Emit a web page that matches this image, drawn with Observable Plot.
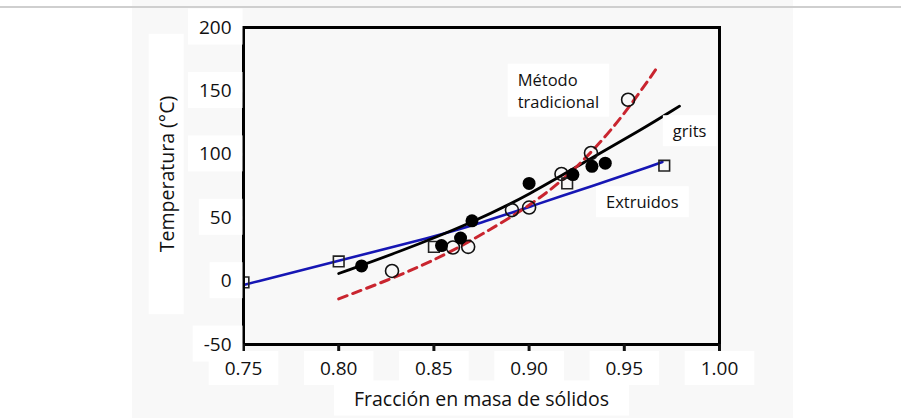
<!DOCTYPE html>
<html><head><meta charset="utf-8">
<script src="https://cdn.jsdelivr.net/npm/d3@7"></script>
<script src="https://cdn.jsdelivr.net/npm/@observablehq/plot@0.6"></script>
<style>
html,body{margin:0;padding:0;background:#fff;}
#wrap{position:relative;width:901px;height:418px;overflow:hidden;}
#panel{position:absolute;left:132px;top:0;width:661px;height:418px;background:#f8f8f8;}
#rule{position:absolute;left:0;top:6px;width:901px;height:2px;background:#cfcfcf;}
#chart{position:absolute;left:0;top:0;}
</style></head><body>
<div id="wrap"><div id="panel"></div><div id="rule"></div><div id="chart"></div></div>
<script>
// Axis ticks
const xTicks = [0.75, 0.80, 0.85, 0.90, 0.95, 1.00];
const yTicks = [-50, 0, 50, 100, 150, 200];

// Measured points: grits (filled circles)
const gritsX = [0.812, 0.854, 0.864, 0.870, 0.900, 0.923, 0.933, 0.940];
const gritsY = [12, 28, 34, 47.5, 77, 84, 90.5, 93];
// Método tradicional (open circles)
const tradX = [0.828, 0.860, 0.868, 0.891, 0.900, 0.917, 0.9325, 0.952];
const tradY = [8, 26.5, 27, 56, 58, 84.5, 101, 143];
// Extruidos (open squares)
const extrX = [0.750, 0.800, 0.850, 0.920, 0.971];
const extrY = [-1, 15.5, 27, 77, 91];

// Fitted curves
const blueCurveX = [0.75, 0.80, 0.85, 0.875, 0.90, 0.935, 0.959, 0.97];
const blueCurveY = [-3, 16, 35, 46, 58.5, 76, 88, 94];
const blackCurveX = [0.80, 0.83, 0.87, 0.90, 0.9325, 0.958, 0.979];
const blackCurveY = [6, 22, 46, 68, 97, 118.5, 138];
const redCurveX = [0.80, 0.83, 0.855, 0.875, 0.90, 0.92, 0.94, 0.955, 0.968];
const redCurveY = [-14, 3, 20, 36.5, 59, 82, 113, 142, 170];

// Annotations
const labelText = ["Método\ntradicional", "grits", "Extruidos"];
const labelX = [0.894, 0.9755, 0.9404];
const labelY = [151, 119, 63];

const zip = (xs, ys) => xs.map((x, i) => ({x, y: ys[i]}));
const grits = zip(gritsX, gritsY);
const trad = zip(tradX, tradY);
const extr = zip(extrX, extrY);
const blue = zip(blueCurveX, blueCurveY);
const black = zip(blackCurveX, blackCurveY);
const red = zip(redCurveX, redCurveY);
const labels = labelText.map((t, i) => ({t, x: labelX[i], y: labelY[i]}));

const chart = Plot.plot({
  width: 901, height: 418,
  marginLeft: 243, marginRight: 182, marginTop: 27, marginBottom: 74,
  style: {background: "transparent", fontFamily: "'Open Sans', 'Noto Sans', sans-serif", fontSize: "19px", color: "#111"},
  x: {domain: [0.75, 1.0]},
  y: {domain: [-50, 200]},
  marks: [
    Plot.line(blue, {x: "x", y: "y", stroke: "#1616b4", strokeWidth: 2.6, curve: "basis"}),
    Plot.line(black, {x: "x", y: "y", stroke: "#000", strokeWidth: 2.8, curve: "basis"}),
    Plot.line(red, {x: "x", y: "y", stroke: "#c9252f", strokeWidth: 3, strokeDasharray: "9,6", curve: "basis"}),
    Plot.dot(trad, {x: "x", y: "y", r: 6.5, stroke: "#111", strokeWidth: 1.6, fill: "none"}),
    Plot.dot(extr, {x: "x", y: "y", symbol: "square", r: 6, stroke: "#222", strokeWidth: 1.6, fill: "none"}),
    Plot.dot(grits, {x: "x", y: "y", r: 6.5, fill: "#000", stroke: "none"}),
    Plot.frame({stroke: "#000", strokeWidth: 3}),
    Plot.axisX({ticks: xTicks, tickFormat: d => d.toFixed(2), tickSize: 9, tickPadding: 8, strokeWidth: 3, label: null, fontSize: 19}),
    Plot.axisY({ticks: yTicks, tickFormat: d => String(d), tickSize: 9, tickPadding: 3, strokeWidth: 3, label: null, fontSize: 19}),
    Plot.text(labels, {x: "x", y: "y", text: "t", textAnchor: "start", fontSize: 16.5, lineHeight: 1.33, fill: "#111"}),
    Plot.text(["Temperatura (°C)"], {text: d => d, frameAnchor: "left", textAnchor: "middle", rotate: -90, dx: -76, dy: -12, fontSize: 19.5, fill: "#111"}),
    Plot.text(["Fracción en masa de sólidos"], {text: d => d, frameAnchor: "bottom", textAnchor: "middle", dy: 61, fontSize: 19.5, fill: "#111"})
  ]
});
document.getElementById("chart").appendChild(chart);

// White label boxes behind texts, as in the source figure
function boxOne(el, px, py) {
  const b = el.getBBox();
  const r = document.createElementNS("http://www.w3.org/2000/svg", "rect");
  r.setAttribute("x", b.x - px);
  r.setAttribute("y", b.y - py);
  r.setAttribute("width", b.width + 2 * px);
  r.setAttribute("height", b.height + 2 * py);
  r.setAttribute("fill", "#fff");
  r.setAttribute("stroke", "none");
  const t = el.getAttribute("transform");
  if (t) r.setAttribute("transform", t);
  el.parentNode.insertBefore(r, el);
}
function boxes(selector, px, py) {
  d3.select(chart).selectAll(selector).each(function() { boxOne(this, px, py); });
}
boxes("g[aria-label='x-axis tick label'] text", 16, 4);
boxes("g[aria-label='y-axis tick label'] text", 11, 5);
const textGroups = d3.select(chart).selectAll("g[aria-label='text']").nodes();
if (textGroups[0]) d3.select(textGroups[0]).selectAll("text").each(function() { boxOne(this, 10, 4); });
if (textGroups[1]) d3.select(textGroups[1]).selectAll("text").each(function() { boxOne(this, 62, 4); });
if (textGroups[2]) d3.select(textGroups[2]).selectAll("text").each(function() { boxOne(this, 20, 4); });
</script>
</body></html>
